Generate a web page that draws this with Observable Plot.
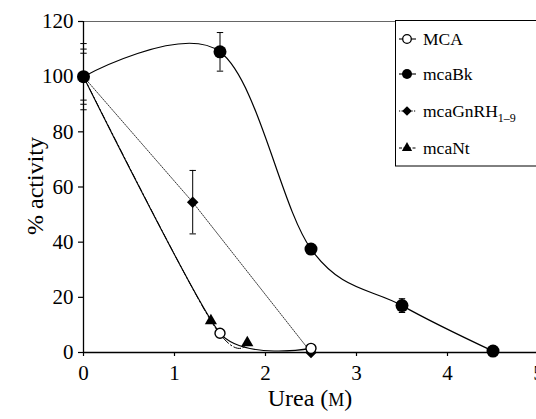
<!DOCTYPE html>
<html><head><meta charset="utf-8">
<script src="https://cdn.jsdelivr.net/npm/d3@7"></script>
<script src="https://cdn.jsdelivr.net/npm/@observablehq/plot@0.6"></script>
<style>
.ser{font-family:'Liberation Serif',serif;color:#000;}
#xlab{position:absolute;left:0;width:620px;top:384px;text-align:center;font-size:24px;line-height:28px;}
#ylab{position:absolute;left:35px;top:186px;font-size:24px;line-height:28px;white-space:nowrap;transform:translate(-50%,-50%) rotate(-90deg);}
.lgt{position:absolute;left:423px;font-size:17.5px;line-height:20px;height:20px;white-space:nowrap;}
.lgt .sub{font-size:12px;vertical-align:-5px;}
</style>
</head><body style="margin:0">
<div id="wrap" style="position:relative;width:536px;height:419px;overflow:hidden;">
<div id="xlab" class="ser">Urea (<span style="font-size:18px">M</span>)</div>
<div id="ylab" class="ser">% activity</div>
</div>
<script>
// Data
const mcaUrea = [0, 1.5, 2.5];
const mcaAct  = [100, 7, 1.5];
const mcaErr  = [12, 0, 0];

const bkUrea = [0, 1.5, 2.5, 3.5, 4.5];
const bkAct  = [100, 109, 37.5, 17, 0.5];
const bkErr  = [10, 7, 0, 2.5, 0];

const gnUrea = [0, 1.2, 2.5];
const gnAct  = [100, 54.5, 0];
const gnErr  = [8.5, 11.5, 0];

const ntUrea = [0, 1.4, 1.8];
const ntAct  = [100, 11.5, 3.5];

const xTicks = [0, 1, 2, 3, 4, 5];
const yTicks = [0, 20, 40, 60, 80, 100, 120];

const legendNames = ["MCA", "mcaBk", "mcaGnRH", "mcaNt"];

const toRows = (xs, ys, es) => xs.map((x, i) => ({x, y: ys[i], e: es ? es[i] : 0}));
const mca = toRows(mcaUrea, mcaAct, mcaErr);
const bk = toRows(bkUrea, bkAct, bkErr);
const gn = toRows(gnUrea, gnAct, gnErr);
const nt = toRows(ntUrea, ntAct);

const capSym = {draw(ctx, size) { const w = 3.2; ctx.moveTo(-w, 0); ctx.lineTo(w, 0); }};
const errRows = [...mca, ...bk, ...gn].filter(d => d.e > 0);
const caps = errRows.flatMap(d => [{x: d.x, y: d.y + d.e}, {x: d.x, y: d.y - d.e}]);

const chart = Plot.plot({
  width: 536, height: 419,
  marginLeft: 83, marginTop: 21, marginBottom: 67, marginRight: 0,
  style: {fontFamily: "Liberation Serif", background: "transparent"},
  x: {domain: [0, 5], range: [83, 538]},
  y: {domain: [0, 120]},
  marks: [
    Plot.ruleY([120], {stroke: "#666", strokeWidth: 1}),
    Plot.ruleY([0], {stroke: "black", strokeWidth: 1.3}),
    Plot.ruleX([0], {stroke: "black", strokeWidth: 1.3}),
    Plot.axisY({ticks: yTicks, tickFormat: d => String(d), tickSize: 5, tickPadding: 5, fontSize: 21, label: null, strokeWidth: 1.2, fontFamily: "Liberation Serif"}),
    Plot.axisX({ticks: xTicks, tickFormat: d => String(d), tickSize: 4, tickPadding: 9, fontSize: 21, label: null, strokeWidth: 1.2, fontFamily: "Liberation Serif"}),
    // error bars
    Plot.ruleX(errRows, {x: "x", y1: d => d.y - d.e, y2: d => d.y + d.e, stroke: "black", strokeWidth: 1}),
    Plot.dot(caps, {x: "x", y: "y", symbol: capSym, stroke: "black", strokeWidth: 1, r: 3}),
    // lines
    Plot.line(gn, {x: "x", y: "y", stroke: "black", strokeWidth: 0.8, strokeDasharray: "1.2,1.3"}),
    Plot.line(nt, {x: "x", y: "y", curve: "cardinal", tension: 0, stroke: "black", strokeWidth: 1, strokeDasharray: "7,2.5,1.5,2.5"}),
    Plot.line(mca, {x: "x", y: "y", curve: "cardinal", tension: 0.4, stroke: "black", strokeWidth: 1.1}),
    Plot.line(bk, {x: "x", y: "y", curve: "cardinal", tension: 0, stroke: "black", strokeWidth: 1.2}),
    // markers
    Plot.dot(gn, {x: "x", y: "y", symbol: "diamond2", r: 5.2, fill: "black", stroke: "none"}),
    Plot.dot(nt, {x: "x", y: "y", symbol: "triangle2", r: 5.8, fill: "black", stroke: "none"}),
    Plot.dot(mca, {x: "x", y: "y", r: 5, fill: "white", stroke: "black", strokeWidth: 1.4}),
    Plot.dot(bk, {x: "x", y: "y", r: 6.5, fill: "black", stroke: "none"})
  ]
});
const wrap = document.getElementById("wrap");
wrap.insertBefore(chart, wrap.firstChild);
chart.style.position = "absolute"; chart.style.left = "0px"; chart.style.top = "0px";

// legend overlay: box and markers in SVG, labels as HTML
const lg = d3.select("#wrap").append("svg")
  .attr("width", 536).attr("height", 419)
  .style("position", "absolute").style("left", "0px").style("top", "0px");
lg.append("rect").attr("x", 395.5).attr("y", 20.5).attr("width", 160).attr("height", 145.5)
  .attr("fill", "white").attr("stroke", "black").attr("stroke-width", 1);
const ys = [39, 74, 111, 148];
const sym = [d3.symbolCircle, d3.symbolCircle, d3.symbolDiamond2, d3.symbolTriangle2];
const dash = [null, null, "1.2,1.3", "3,1.5"];
legendNames.forEach((name, i) => {
  const g = lg.append("g").attr("transform", `translate(0,${ys[i]})`);
  g.append("line").attr("x1", 399).attr("x2", 416).attr("stroke", "black").attr("stroke-width", 1.1)
    .attr("stroke-dasharray", dash[i]);
  if (i === 0) g.append("circle").attr("cx", 407).attr("r", 4.3).attr("fill", "white").attr("stroke", "black").attr("stroke-width", 1.3);
  else if (i === 1) g.append("circle").attr("cx", 407).attr("r", 5).attr("fill", "black");
  else g.append("path").attr("transform", "translate(407,0)")
    .attr("d", d3.symbol(sym[i], i === 2 ? 60 : 75)()).attr("fill", "black");
  const t = d3.select("#wrap").append("div").attr("class", "ser lgt").style("top", (ys[i] - 10) + "px");
  t.append("span").text(name);
  if (i === 2) t.append("span").attr("class", "sub").text("1\u20139");
});
</script></body></html>
